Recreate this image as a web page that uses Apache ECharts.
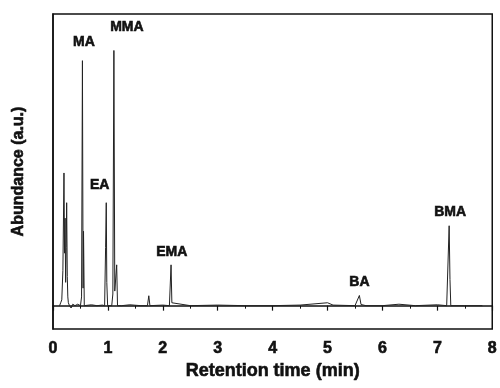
<!DOCTYPE html>
<html>
<head>
<meta charset="utf-8">
<script src="https://cdn.jsdelivr.net/npm/echarts@6/dist/echarts.min.js"></script>
<style>
  html, body { margin: 0; padding: 0; background: #fff; }
  #chart { width: 500px; height: 388px; }
</style>
</head>
<body>
<div id="chart"></div>
<script>
// Chromatogram trace: retention time (min) and detector abundance (a.u.)
const retentionTime = [
  0.12, 0.14, 0.16, 0.18, 0.2, 0.21, 0.22, 0.23, 0.24, 0.249, 0.26, 0.27, 0.28, 0.3,
  0.33, 0.36, 0.4, 0.45,
  0.5, 0.52, 0.536, 0.548, 0.556, 0.57,
  0.6, 0.7, 0.8, 0.9,
  0.94, 0.958, 0.97, 0.98, 0.995,
  1.07, 1.09, 1.109, 1.125, 1.16, 1.175,
  1.25, 1.4, 1.6, 1.72, 1.745, 1.765,
  2.0, 2.12, 2.15, 2.165, 2.2,
  2.5, 3.0, 3.5, 4.0, 4.5, 5.0, 5.1,
  5.5, 5.58, 5.61, 5.7,
  6.0, 6.3, 6.6, 7.0,
  7.17, 7.215, 7.23, 7.245,
  7.5, 7.82
];
const abundance = [
  0, 1, 2, 12, 45.5, 18, 30, 8, 20, 35.3, 10, 3, 1, 0,
  -0.8, 0.5, 0, 0.5,
  0, 3, 84, 6, 25.5, 0,
  0, 0.3, 0, 0.2,
  0, 20, 35.3, 8, 0,
  0, 4, 87.5, 5, 14, 0,
  0, 0.3, 0, 0, 3.4, 0,
  0.2, 0, 14, 1, 0.4,
  0, 0.2, 0, 0, 0.2, 1, 0.2,
  0, 3.5, 0.4, 0,
  0, 0.5, 0, 0.3,
  0, 27.4, 9, 0,
  0, 0
];

// Identified compounds
const peakNames = ['MA', 'MMA', 'EA', 'EMA', 'BA', 'BMA'];
const peakTimes = [0.536, 1.109, 0.97, 2.15, 5.58, 7.215];
const peakHeights = [84, 87.5, 35.3, 14, 3.5, 27.4];
// label nudges [dx, dy] in pixels
const labelNudge = [[1.5, -12], [13, -16], [-6.5, -11], [0.7, -6], [0, -6], [1, -7]];

const xTicks = [0, 1, 2, 3, 4, 5, 6, 7, 8];

const font = '"Liberation Sans", Arial, Helvetica, sans-serif';
const ink = '#111';
// thin outline in the text colour to give the heavy bold look
const heavy = { textBorderColor: ink, textBorderWidth: 0.6 };

const chart = echarts.init(document.getElementById('chart'), null, { renderer: 'canvas' });

chart.setOption({
  animation: false,
  backgroundColor: '#ffffff',
  grid: {
    left: 53, right: 7, top: 14, bottom: 59,
    show: true, borderColor: ink, borderWidth: 1.5, backgroundColor: 'transparent'
  },
  xAxis: {
    type: 'value',
    min: xTicks[0], max: xTicks[xTicks.length - 1], interval: 1,
    name: 'Retention time (min)',
    nameLocation: 'middle',
    nameGap: 30,
    nameTextStyle: Object.assign({ fontFamily: font, fontWeight: 'bold', fontSize: 18, color: ink }, heavy),
    axisLine: { show: true, lineStyle: { color: ink, width: 1.5 } },
    axisTick: { show: true, inside: false, length: 5, lineStyle: { color: ink, width: 1.2 } },
    minorTick: { show: true, splitNumber: 2, length: 3, lineStyle: { color: ink, width: 1 } },
    axisLabel: Object.assign({ fontFamily: font, fontWeight: 'bold', fontSize: 16, color: ink, margin: 12 }, heavy),
    splitLine: { show: false }
  },
  yAxis: {
    type: 'value',
    min: -8, max: 100,
    name: 'Abundance (a.u.)',
    nameLocation: 'middle',
    nameGap: 26,
    nameTextStyle: Object.assign({ fontFamily: font, fontWeight: 'bold', fontSize: 16, color: ink }, heavy),
    axisLine: { show: true, lineStyle: { color: ink, width: 1.5 } },
    axisTick: { show: false },
    axisLabel: { show: false },
    splitLine: { show: false }
  },
  series: [
    {
      type: 'line',
      data: retentionTime.map((t, i) => [t, abundance[i]]),
      showSymbol: false,
      symbol: 'none',
      lineStyle: { color: '#222', width: 1 },
      silent: true
    },
    {
      type: 'scatter',
      symbolSize: 0,
      silent: true,
      itemStyle: { opacity: 1 },
      data: peakNames.map((n, i) => ({
        value: [peakTimes[i], peakHeights[i]],
        name: n,
        label: { offset: labelNudge[i] }
      })),
      label: Object.assign({
        show: true,
        position: 'top',
        distance: 0,
        opacity: 1,
        formatter: p => p.name,
        fontFamily: font,
        fontWeight: 'bold',
        fontSize: 14,
        color: ink
      }, heavy)
    }
  ]
});
</script>
</body>
</html>
